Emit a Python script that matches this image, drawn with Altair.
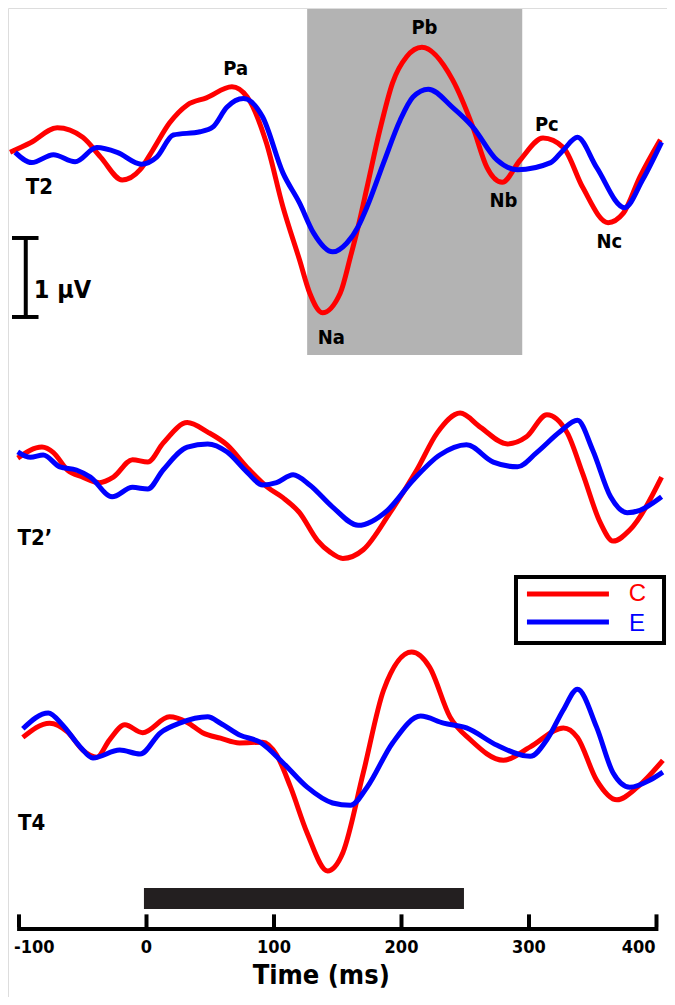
import altair as alt
import pandas as pd

# ---------------- data (time in ms, amplitude in µV) -------------
T2_C_T = [-107, -91, -70, -50, -36, -19, -5, 5, 18, 32, 47, 67, 79, 94, 107, 120, 128, 138, 152, 160,
          166, 173, 183, 193, 204, 216, 240, 256, 267, 279, 293, 311, 327, 342, 362, 374, 387, 403]
T2_C_V = [-0.03, 0.09, 0.28, 0.16, -0.09, -0.38, -0.25, 0.00, 0.34, 0.57, 0.66, 0.80, 0.67, 0.09, -0.72,
          -1.39, -1.81, -2.06, -1.81, -1.35, -0.97, -0.47, 0.25, 0.85, 1.18, 1.30, 0.89, 0.29, -0.22,
          -0.41, -0.13, 0.15, 0.03, -0.47, -0.92, -0.80, -0.34, 0.13]

T2_E_T = [-103, -90, -73, -56, -39, -23, -4, 8, 21, 42, 52, 63, 76, 91, 107, 120, 131, 146, 157, 166,
          173, 186, 199, 209, 221, 240, 256, 275, 291, 317, 327, 338, 353, 375, 389, 404]
T2_E_V = [-0.03, -0.16, -0.06, -0.15, 0.03, -0.03, -0.18, -0.09, 0.19, 0.23, 0.29, 0.54, 0.65, 0.42,
          -0.29, -0.67, -1.05, -1.29, -1.18, -0.97, -0.72, -0.16, 0.38, 0.67, 0.77, 0.54, 0.29, -0.13,
          -0.25, -0.16, 0.00, 0.16, -0.22, -0.73, -0.38, 0.10]

T2P_C_T = [-101, -82, -73, -62, -50, -37, -26, -11, 1, 13, 32, 48, 63, 79, 95, 107, 120, 134, 144, 154,
           170, 191, 212, 228, 246, 262, 283, 298, 314, 330, 342, 356, 366, 379, 404]
T2P_C_V = [-0.04, 0.10, 0.03, -0.19, -0.28, -0.35, -0.28, -0.06, -0.09, 0.15, 0.41, 0.29, 0.13, -0.16,
           -0.41, -0.54, -0.73, -1.08, -1.23, -1.31, -1.20, -0.73, -0.19, 0.28, 0.53, 0.35, 0.14, 0.23,
           0.51, 0.28, -0.23, -0.86, -1.09, -0.95, -0.28]

T2P_E_T = [-101, -91, -81, -68, -55, -44, -27, -11, 1, 13, 32, 48, 63, 79, 91, 102, 115, 128, 146, 166,
           189, 209, 230, 251, 272, 291, 306, 324, 338, 350, 364, 377, 387, 404]
T2P_E_V = [0.04, -0.03, 0.00, -0.15, -0.19, -0.28, -0.53, -0.41, -0.43, -0.19, 0.10, 0.14, 0.04, -0.22,
           -0.38, -0.35, -0.25, -0.38, -0.66, -0.89, -0.70, -0.32, 0.00, 0.13, -0.09, -0.15, 0.03, 0.29,
           0.44, 0.06, -0.53, -0.73, -0.70, -0.53]

T4_C_T = [-97, -76, -62, -50, -39, -29, -17, -3, 18, 32, 44, 58, 73, 91, 102, 113, 126, 142, 154, 170,
          186, 208, 222, 238, 254, 280, 301, 327, 338, 353, 369, 385, 405]
T4_C_V = [-0.03, 0.15, 0.04, -0.19, -0.28, -0.06, 0.13, 0.03, 0.23, 0.16, 0.03, -0.04, -0.10, -0.09,
          -0.25, -0.66, -1.24, -1.72, -1.49, -0.48, 0.57, 1.05, 0.86, 0.23, -0.06, -0.32, -0.15, 0.09,
          -0.03, -0.57, -0.82, -0.66, -0.32]

T4_E_T = [-97, -77, -66, -52, -42, -21, -5, 11, 26, 48, 58, 73, 89, 107, 126, 146, 160, 173, 193, 215,
          233, 251, 275, 301, 314, 327, 338, 353, 366, 379, 395, 405]
T4_E_V = [0.08, 0.28, 0.13, -0.15, -0.29, -0.19, -0.24, 0.03, 0.15, 0.23, 0.15, 0.00, -0.09, -0.35,
          -0.66, -0.86, -0.89, -0.66, -0.10, 0.24, 0.15, 0.09, -0.13, -0.27, -0.06, 0.32, 0.58, 0.10,
          -0.48, -0.66, -0.57, -0.47]

PANELS = ["T2", "T2\u2019", "T4"]
PANEL_OFFSET = [-1.797, -5.658, -9.203]        # vertical position of each panel's baseline (µV units)
CONDITIONS = ["C", "E"]
COLORS = ["#ff0000", "#0000ff"]

TICKS = [-100, 0, 100, 200, 300, 400]
TICK_LABELS = ["-100", "0", "100", "200", "300", "400"]
SHADE = (126, 294.7)        # analysis window in ms
STIM = (-2, 249)            # stimulus bar in ms

PEAKS = ["Pa", "Na", "Pb", "Nb", "Pc", "Nc"]
PEAK_T = [70, 145, 218, 280, 314, 363]
PEAK_V = [1.03, -2.38, 1.54, -0.65, 0.31, -1.17]   # relative to T2 baseline

# ---------------- build tables ----------------
series = [
    (0, "C", T2_C_T, T2_C_V), (0, "E", T2_E_T, T2_E_V),
    (1, "C", T2P_C_T, T2P_C_V), (1, "E", T2P_E_T, T2P_E_V),
    (2, "C", T4_C_T, T4_C_V), (2, "E", T4_E_T, T4_E_V),
]
rows = []
for p, cond, ts, vs in series:
    for i, (t, v) in enumerate(zip(ts, vs)):
        rows.append({"t": t, "y": v + PANEL_OFFSET[p], "cond": cond,
                     "key": f"{PANELS[p]}-{cond}", "i": i})
waves = pd.DataFrame(rows)

W, H = 659, 989
PX = 79.0  # pixels per µV
XS = alt.Scale(domain=[-108.63, 408.24], nice=False, zero=False)
YS = alt.Scale(domain=[-H / PX, 0], nice=False, zero=False)
COND_FONT = "DejaVu Sans Condensed, Liberation Sans Narrow, sans-serif"
CSCALE = alt.Scale(domain=CONDITIONS, range=COLORS)


def X(f):
    return alt.X(f, type="quantitative", scale=XS, axis=None)


def Y(f):
    return alt.Y(f, type="quantitative", scale=YS, axis=None)


# shaded window
shade = alt.Chart(pd.DataFrame({"a": [SHADE[0]], "b": [SHADE[1]],
                                "y1": [-0.013], "y2": [-4.392]})).mark_rect(
    color="#b3b3b3").encode(x=X("a"), x2="b", y=Y("y1"), y2="y2")

lines = alt.Chart(waves).mark_line(strokeWidth=5, interpolate="monotone").encode(
    x=X("t"), y=Y("y"),
    color=alt.Color("cond:N", scale=CSCALE, legend=None),
    detail="key:N", order="i:Q")

# panel names
pl = pd.DataFrame({"name": PANELS, "t": [-84, -87.5, -90],
                   "y": [-2.266, -6.715, -10.32]})
panel_txt = alt.Chart(pl).mark_text(font=COND_FONT, fontWeight="bold", fontSize=22,
                                    color="black", baseline="middle").encode(
    x=X("t"), y=Y("y"), text="name:N")

pk = pd.DataFrame({"name": PEAKS, "t": PEAK_T, "y": [v + PANEL_OFFSET[0] for v in PEAK_V]})
peak_txt = alt.Chart(pk).mark_text(font=COND_FONT, fontWeight="bold", fontSize=20,
                                   color="black", baseline="middle").encode(
    x=X("t"), y=Y("y"), text="name:N")

# 1 µV scale bar
SB_T = -94.7
SB_TOP = -2.911
sb_v = alt.Chart(pd.DataFrame({"t": [SB_T], "a": [SB_TOP], "b": [SB_TOP - 1.0]})).mark_rule(
    strokeWidth=4, color="black").encode(x=X("t"), y=Y("a"), y2="b")
sb_caps = alt.Chart(pd.DataFrame({"a": [-105.5, -105.5], "b": [-84.7, -84.7],
                                  "y": [SB_TOP, SB_TOP - 1.0]})).mark_rule(
    strokeWidth=4, color="black").encode(x=X("a"), x2="b", y=Y("y"))
sb_txt = alt.Chart(pd.DataFrame({"t": [-88.5], "y": [SB_TOP - 0.66], "s": ["1 \u00b5V"]})).mark_text(
    font=COND_FONT, fontWeight="bold", fontSize=25, align="left", baseline="middle",
    color="black").encode(x=X("t"), y=Y("y"), text="s:N")

# legend box
lg_box = alt.Chart(pd.DataFrame({"a": [289.8], "b": [405.9], "y1": [-7.203], "y2": [-8.038]})).mark_rect(
    fill="white", stroke="black", strokeWidth=4).encode(x=X("a"), x2="b", y=Y("y1"), y2="y2")
lg_df = pd.DataFrame({"cond": CONDITIONS, "a": [298.4, 298.4], "b": [362.7, 362.7],
                      "y": [-7.418, -7.772], "tt": [385.1, 384.7], "ty": [-7.42, -7.80]})
lg_lines = alt.Chart(lg_df).mark_rule(strokeWidth=5).encode(
    x=X("a"), x2="b", y=Y("y"),
    color=alt.Color("cond:N", scale=CSCALE, legend=None))
lg_txt = alt.Chart(lg_df).mark_text(font="Liberation Sans, Arial, sans-serif", fontSize=24,
                                    baseline="middle").encode(
    x=X("tt"), y=Y("ty"), text="cond:N",
    color=alt.Color("cond:N", scale=CSCALE, legend=None))

# stimulus bar
stim = alt.Chart(pd.DataFrame({"a": [STIM[0]], "b": [STIM[1]], "y1": [-11.139], "y2": [-11.405]})).mark_rect(
    color="#231f20").encode(x=X("a"), x2="b", y=Y("y1"), y2="y2")

# hand-drawn time axis (ticks point upward)
AX_Y = -11.658
ax_line = alt.Chart(pd.DataFrame({"a": [-101.5], "b": [401.5], "y": [AX_Y]})).mark_rule(
    strokeWidth=4, color="black").encode(x=X("a"), x2="b", y=Y("y"))
tk = pd.DataFrame({"t": TICKS, "lab": TICK_LABELS, "a": [AX_Y + 0.025] * 6, "b": [AX_Y + 0.185] * 6,
                   "ly": [-11.895] * 6})
ax_ticks = alt.Chart(tk).mark_rule(strokeWidth=4, color="black").encode(x=X("t"), y=Y("a"), y2="b")

lab_base = alt.Chart(tk)
lab_kw = dict(font=COND_FONT, fontWeight="bold", fontSize=18, baseline="middle", color="black")
ax_lab_left = lab_base.transform_filter(alt.datum.t == TICKS[0]).mark_text(
    align="left", dx=-5, **lab_kw).encode(x=X("t"), y=Y("ly"), text="lab:N")
ax_lab_mid = lab_base.transform_filter(
    (alt.datum.t > TICKS[0]) & (alt.datum.t < TICKS[-1])).mark_text(
    align="center", **lab_kw).encode(x=X("t"), y=Y("ly"), text="lab:N")
ax_lab_right = lab_base.transform_filter(alt.datum.t == TICKS[-1]).mark_text(
    align="right", dx=-1, **lab_kw).encode(x=X("t"), y=Y("ly"), text="lab:N")
ax_title = alt.Chart(pd.DataFrame({"t": [137], "y": [-12.25], "s": ["Time (ms)"]})).mark_text(
    font=COND_FONT, fontWeight="bold", fontSize=27, baseline="middle", color="black").encode(
    x=X("t"), y=Y("y"), text="s:N")

chart = alt.layer(
    shade, lines, panel_txt, peak_txt, sb_v, sb_caps, sb_txt,
    lg_box, lg_lines, lg_txt, stim, ax_line, ax_ticks,
    ax_lab_left, ax_lab_mid, ax_lab_right, ax_title
).properties(width=W, height=H, padding=0, autosize=alt.AutoSizeParams(type="none")
).configure_view(strokeWidth=0, stroke="transparent").configure(background="white")

chart.save("out.html", embed_options={"renderer": "svg", "actions": False})
